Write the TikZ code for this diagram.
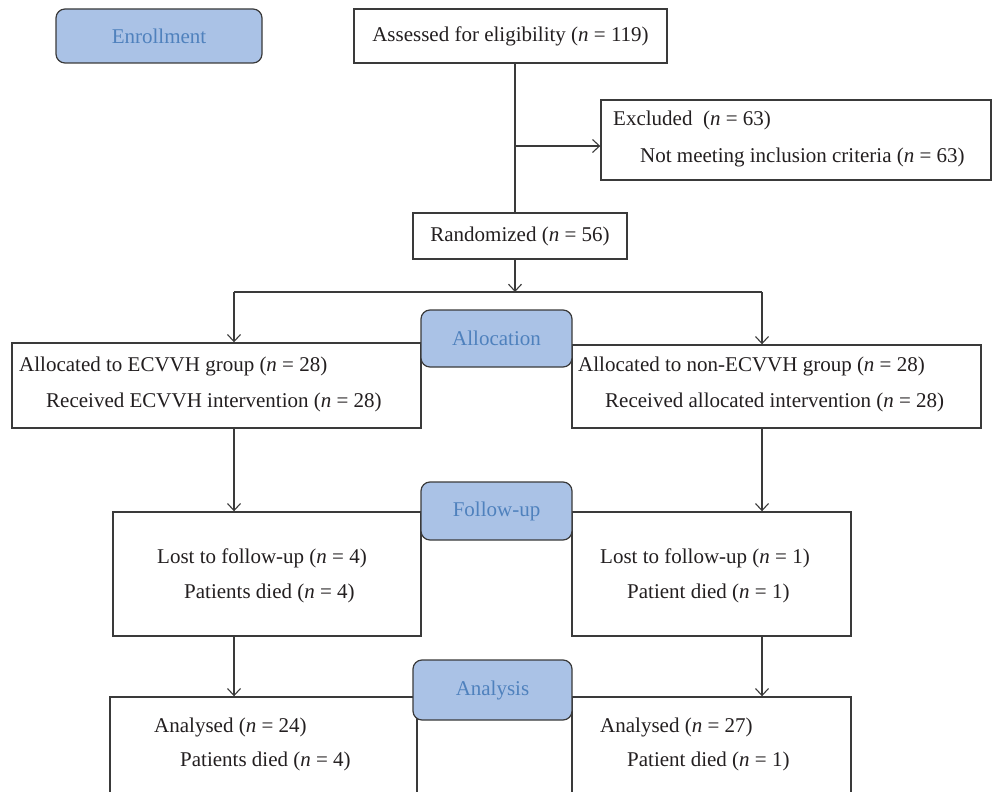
\documentclass[tikz,border=0pt]{standalone}
\usepackage{fontspec}
\setmainfont{Liberation Serif}
\usetikzlibrary{arrows.meta}

\definecolor{phasefill}{HTML}{AAC2E6}
\definecolor{phasetext}{HTML}{4F81BD}
\definecolor{linegray}{HTML}{3A3A3A}
\definecolor{inkblack}{HTML}{231F20}

\newcommand{\nn}[1]{(\textit{n} = #1)}

\tikzset{
  box/.style={draw=linegray, line width=1.4pt, fill=white, inner sep=0pt, text=inkblack},
  phase/.style={draw=linegray, line width=1.2pt, fill=phasefill, rounded corners=9pt,
    text=phasetext, inner sep=0pt},
  txt/.style={anchor=west, inner sep=0pt, text=inkblack},
  conn/.style={draw=linegray, line width=1.1pt},
  >={Straight Barb[length=7pt,width=13pt]},
}

\begin{document}
\begin{tikzpicture}[x=1pt, y=-1pt, font=\fontsize{21}{25}\selectfont]
        \clip (0,0) rectangle (993,792);

        % enrollment
        \node[box, minimum width=313pt, minimum height=54pt] (assess) at (510.5,36) {Assessed for eligibility \nn{119}};
        \node[box, minimum width=390pt, minimum height=80pt] (excl) at (796,140) {};
        \node[txt] (excl-a) at (613,120) {Excluded \ \nn{63}};
        \node[txt] (excl-b) at (640,157) {Not meeting inclusion criteria \nn{63}};
        \node[box, minimum width=214pt, minimum height=46pt] (rand) at (520,236) {Randomized \nn{56}};

        % allocation
        \node[box, minimum width=409pt, minimum height=85pt] (lalloc) at (216.5,385.5) {};
        \node[txt] (lalloc-a) at (19,366) {Allocated to ECVVH group \nn{28}};
        \node[txt] (lalloc-b) at (46,402) {Received ECVVH intervention \nn{28}};
        \node[box, minimum width=409pt, minimum height=83pt] (ralloc) at (776.5,386.5) {};
        \node[txt] (ralloc-a) at (578,366) {Allocated to non-ECVVH group \nn{28}};
        \node[txt] (ralloc-b) at (605,402) {Received allocated intervention \nn{28}};

        % follow-up
        \node[box, minimum width=308pt, minimum height=124pt] (lfollow) at (267,574) {};
        \node[txt] (lfollow-a) at (157,558) {Lost to follow-up \nn{4}};
        \node[txt] (lfollow-b) at (184,593) {Patients died \nn{4}};
        \node[box, minimum width=279pt, minimum height=124pt] (rfollow) at (711.5,574) {};
        \node[txt] (rfollow-a) at (600,558) {Lost to follow-up \nn{1}};
        \node[txt] (rfollow-b) at (627,593) {Patient died \nn{1}};

        % analysis
        \node[box, minimum width=307pt, minimum height=120pt] (lana) at (263.5,757) {};
        \node[txt] (lana-a) at (154,727) {Analysed \nn{24}};
        \node[txt] (lana-b) at (180,761) {Patients died \nn{4}};
        \node[box, minimum width=279pt, minimum height=120pt] (rana) at (711.5,757) {};
        \node[txt] (rana-a) at (600,727) {Analysed \nn{27}};
        \node[txt] (rana-b) at (627,761) {Patient died \nn{1}};

        % connectors
        \coordinate (trunk) at (515,292);
        \coordinate (exclfork) at (515,146);
        \coordinate (lsplit) at (234,292);
        \coordinate (rsplit) at (762,292);

        \draw[conn] (assess.south -| trunk) -- (rand.north -| trunk);
        \draw[conn, ->] (exclfork) -- (exclfork -| excl.west);
        \draw[conn, ->] (rand.south -| trunk) -- (trunk);
        \draw[conn] (lsplit) -- (rsplit);
        \draw[conn, ->] (lsplit) -- (lsplit |- lalloc.north);
        \draw[conn, ->] (rsplit) -- (rsplit |- ralloc.north);
        \draw[conn, ->] (lsplit |- lalloc.south) -- (lsplit |- lfollow.north);
        \draw[conn, ->] (rsplit |- ralloc.south) -- (rsplit |- rfollow.north);
        \draw[conn, ->] (lsplit |- lfollow.south) -- (lsplit |- lana.north);
        \draw[conn, ->] (rsplit |- rfollow.south) -- (rsplit |- rana.north);

        % phase labels
        \node[phase, minimum width=206pt, minimum height=54pt] (enroll) at (159,36) {Enrollment};
        \node[phase, minimum width=151pt, minimum height=57pt] (alloc) at (496.5,338.5) {Allocation};
        \node[phase, minimum width=151pt, minimum height=58pt] (follow) at (496.5,511) {Follow-up};
        \node[phase, minimum width=159pt, minimum height=60pt] (ana) at (492.5,690) {Analysis};
      \end{tikzpicture}
\end{document}
